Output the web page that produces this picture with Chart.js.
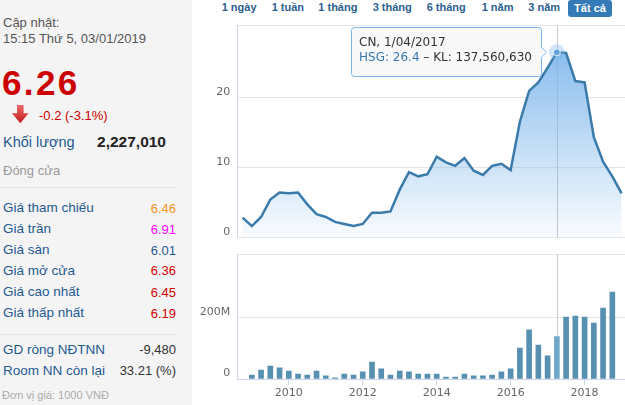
<!DOCTYPE html>
<html>
<head>
<meta charset="utf-8">
<script src="https://cdn.jsdelivr.net/npm/chart.js@4.4.1/dist/chart.umd.min.js"></script>
<style>
body{margin:0;width:625px;height:405px;overflow:hidden;background:#fff;position:relative;font-family:"Liberation Sans",Arial,sans-serif}
#info{position:absolute;left:0;top:0;width:192px;height:405px;background:#f4f4f4}
.t{position:absolute;white-space:nowrap;line-height:1}
.lbl{color:#1f5a92;font-size:13.5px;left:3px}
.val{font-size:13px;right:16px}
.hr{position:absolute;left:0;width:177px;height:1px;background:#e3e3e3}
.btn{position:absolute;top:1.6px;font-size:11px;font-weight:bold;color:#2c5f90;white-space:nowrap;line-height:1}
#all{position:absolute;left:568px;top:0;width:44px;height:17px;background:#337ab7;border-radius:3px;color:#fff;font-size:11px;font-weight:bold;text-align:center;line-height:17px}
canvas{position:absolute;left:192px}
</style>
</head>
<body>
<div id="info">
  <div class="t" style="left:3px;top:16.2px;font-size:13px;color:#555">Cập nhật:</div>
  <div class="t" style="left:3px;top:31.9px;font-size:13px;color:#555">15:15 Thứ 5, 03/01/2019</div>
  <div class="t" style="left:2px;top:65px;font-size:35px;font-weight:bold;color:#cc0000;letter-spacing:2.4px">6.26</div>
  <svg style="position:absolute;left:11.7px;top:105px" width="17" height="19" viewBox="0 0 17 19">
    <defs><linearGradient id="ag" x1="0" y1="0" x2="0" y2="1"><stop offset="0" stop-color="#ec6a6a"/><stop offset="1" stop-color="#c41a1a"/></linearGradient></defs>
    <path d="M5 0 H11.6 V8.3 H16.6 L8.3 18.3 L0 8.3 H5 Z" fill="url(#ag)"/>
  </svg>
  <div class="t" style="left:39px;top:109.2px;font-size:13px;color:#cc0000">-0.2 (-3.1%)</div>
  <div class="t" style="left:3px;top:134.7px;font-size:14.5px;color:#1f5a92">Khối lượng</div>
  <div class="t" style="right:26px;top:133.8px;font-size:15.5px;font-weight:bold;color:#222">2,227,010</div>
  <div class="t" style="left:3px;top:163.5px;font-size:13px;color:#999">Đóng cửa</div>
  <div class="hr" style="top:187px"></div>
  <div id="rows"></div>
  <div class="hr" style="top:334px"></div>
  <div class="t" style="left:2px;top:390.2px;font-size:11px;color:#aaa">Đơn vị giá: 1000 VNĐ</div>
</div>
<div class="btn" style="left:221.7px">1 ngày</div>
<div class="btn" style="left:271.7px">1 tuần</div>
<div class="btn" style="left:318.3px">1 tháng</div>
<div class="btn" style="left:372.7px">3 tháng</div>
<div class="btn" style="left:426.7px">6 tháng</div>
<div class="btn" style="left:481.7px">1 năm</div>
<div class="btn" style="left:528.3px">3 năm</div>
<div id="all">Tất cả</div>
<canvas id="priceChart" width="433" height="222" style="top:20px"></canvas>
<canvas id="volChart" width="433" height="155" style="top:250px"></canvas>
<script>
// quarterly points, 1/10/2008 .. 1/01/2019
const quarters = ['1/10/2008',
  '1/01/2009','1/04/2009','1/07/2009','1/10/2009',
  '1/01/2010','1/04/2010','1/07/2010','1/10/2010',
  '1/01/2011','1/04/2011','1/07/2011','1/10/2011',
  '1/01/2012','1/04/2012','1/07/2012','1/10/2012',
  '1/01/2013','1/04/2013','1/07/2013','1/10/2013',
  '1/01/2014','1/04/2014','1/07/2014','1/10/2014',
  '1/01/2015','1/04/2015','1/07/2015','1/10/2015',
  '1/01/2016','1/04/2016','1/07/2016','1/10/2016',
  '1/01/2017','1/04/2017','1/07/2017','1/10/2017',
  '1/01/2018','1/04/2018','1/07/2018','1/10/2018',
  '1/01/2019'];
const price = [2.8,
  1.6,2.9,5.4,6.4,
  6.3,6.4,4.7,3.3,
  2.9,2.2,1.9,1.6,
  1.9,3.5,3.5,3.7,
  6.8,9.3,8.7,9.0,
  11.5,10.7,10.2,11.3,
  9.5,8.9,10.2,10.5,
  9.6,16.5,20.9,22.1,
  24.2,26.4,26.3,22.3,
  22.1,14.3,10.8,8.7,
  6.26];
// volume, millions of shares
const volume = [null,
  13,29,42,36,
  26,16,13,26,
  10,4,16,13,
  23,55,33,13,
  26,23,16,16,
  16,6,6,16,
  10,10,13,23,
  33,100,159,110,
  75,137.56063,201,204,
  201,181,230,282,
  null];
const yearTicks = [2010,2012,2014,2016,2018];
const priceTicks = [0,10,20];
const volTicks = [0,200];
const volTickLabels = ['0','200M'];
const ticker = 'HSG';
const tipDay = 'CN';
const hoverDate = '1/04/2017';

// left panel rows
const rowLabels = ['Giá tham chiếu','Giá trần','Giá sàn','Giá mở cửa','Giá cao nhất','Giá thấp nhất','GD ròng NĐTNN','Room NN còn lại'];
const rowValues = ['6.46','6.91','6.01','6.36','6.45','6.19','-9,480','33.21 (%)'];
const rowColors = ['#f7941d','#ff00ff','#1f5a92','#d40000','#d40000','#d40000','#333','#333'];
const rowBase = [212.7,233.5,254.3,275.1,296.7,317.4,354,375];
const rows = document.getElementById('rows');
rowLabels.forEach((l,i)=>{
  rows.insertAdjacentHTML('beforeend',
    '<div class="t lbl" style="top:'+(rowBase[i]-0.83*13.5)+'px">'+l+'</div>'+
    '<div class="t val" style="top:'+(rowBase[i]-0.83*13)+'px;color:'+rowColors[i]+'">'+rowValues[i]+'</div>');
});

const toX = q => { const p = q.split('/').map(Number); return p[2] + (p[1]-1)/12; };
const xs = quarters.map(toX);
const hoverIdx = quarters.indexOf(hoverDate);
const xMin = 2008.607, xMax = 2019.093;
const fmt = n => String(n).replace(/\B(?=(\d{3})+(?!\d))/g, ',');
const lineColor = '#3b7bab';
const tickFont = {family:'DejaVu Sans', size:11};
// keep tick labels from shrinking the plot area
const noPad = s => { s.paddingTop = 0; s.paddingBottom = 0; s.paddingLeft = 0; s.paddingRight = 0; };

const crosshair = {
  id:'crosshair',
  beforeDatasetsDraw(chart){
    const x = Math.round(chart.scales.x.getPixelForValue(xs[hoverIdx])) + 0.5;
    const a = chart.chartArea, c = chart.ctx;
    c.save();
    c.strokeStyle = '#c8c8c8'; c.lineWidth = 1;
    c.beginPath(); c.moveTo(x, a.top); c.lineTo(x, a.bottom); c.stroke();
    c.restore();
  }
};

const tip = {
  id:'tip',
  afterDatasetsDraw(chart){
    const el = chart.getDatasetMeta(0).data[hoverIdx];
    const c = chart.ctx;
    c.save();
    c.fillStyle = 'rgba(124,181,236,0.35)';
    c.beginPath(); c.arc(el.x, el.y, 8, 0, Math.PI*2); c.fill();
    c.fillStyle = '#62a3dd'; c.strokeStyle = 'rgba(255,255,255,0.8)'; c.lineWidth = 1;
    c.beginPath(); c.arc(el.x, el.y, 3.5, 0, Math.PI*2); c.fill(); c.stroke();
    c.restore();
  },
  afterDraw(chart){
    const el = chart.getDatasetMeta(0).data[hoverIdx];
    const c = chart.ctx;
    c.save();
    c.font = '12px "DejaVu Sans"';
    const title = tipDay + ', ' + quarters[hoverIdx];
    const p1 = ticker + ': ' + price[hoverIdx];
    const p2 = ' \u2013 KL: ' + fmt(Math.round(volume[hoverIdx]*1e6));
    const tw = Math.max(c.measureText(title).width, c.measureText(p1+p2).width);
    const w = Math.round(tw + 17), h = 49;
    const right = Math.round(el.x - 15.5) + 0.5, left = right - w;
    const top = Math.round(el.y - 25.3) + 0.5, bottom = top + h, cy = el.y, r = 3;
    c.beginPath();
    c.moveTo(left + r, top);
    c.lineTo(right - r, top); c.arcTo(right, top, right, top + r, r);
    c.lineTo(right, cy - 5); c.lineTo(right + 5, cy); c.lineTo(right, cy + 5);
    c.lineTo(right, bottom - r); c.arcTo(right, bottom, right - r, bottom, r);
    c.lineTo(left + r, bottom); c.arcTo(left, bottom, left, bottom - r, r);
    c.lineTo(left, top + r); c.arcTo(left, top, left + r, top, r);
    c.closePath();
    c.fillStyle = 'rgba(247,247,247,0.92)'; c.fill();
    c.strokeStyle = '#7cb5ec'; c.lineWidth = 1; c.stroke();
    c.textBaseline = 'middle'; c.textAlign = 'left';
    c.fillStyle = '#333';
    c.fillText(title, left + 7.5, top + 15.3);
    c.fillStyle = '#3a78b2';
    c.fillText(p1, left + 7.5, top + 30.3);
    c.fillStyle = '#333';
    c.fillText(p2, left + 7.5 + c.measureText(p1).width, top + 30.3);
    c.restore();
  }
};

new Chart(document.getElementById('priceChart'), {
  type:'line',
  data:{ datasets:[{
    data: xs.map((x,i)=>({x:x, y:price[i]})),
    borderColor: lineColor, borderWidth:2.5, tension:0, pointRadius:0,
    fill:'origin',
    backgroundColor: ctx => {
      const a = ctx.chart.chartArea;
      if(!a) return 'rgba(124,181,236,0.4)';
      const g = ctx.chart.ctx.createLinearGradient(0, a.top, 0, a.bottom);
      g.addColorStop(0, 'rgba(124,181,236,1)');
      g.addColorStop(1, 'rgba(124,181,236,0.05)');
      return g;
    }
  }]},
  options:{
    responsive:false, animation:false, events:[],
    layout:{padding:{top:5.7, bottom:4.7, left:0, right:0}},
    plugins:{legend:{display:false}, tooltip:{enabled:false}},
    scales:{
      x:{type:'linear', display:false, offset:false, min:xMin, max:xMax},
      y:{min:0, max:30.2,
        afterFit: s => { s.width = 45.3; noPad(s); },
        afterBuildTicks: s => { s.ticks = priceTicks.concat([30.2]).map(v=>({value:v})); },
        ticks:{padding:7, labelOffset:-5.5, color:'#666', font:tickFont,
          callback: v => priceTicks.includes(v) ? String(v) : ''},
        grid:{color:'#e6e6e6', drawTicks:false},
        border:{color:'#ccd6eb'}
      }
    }
  },
  plugins:[crosshair, tip]
});

new Chart(document.getElementById('volChart'), {
  type:'bar',
  data:{ datasets:[{
    data: xs.map((x,i)=>({x:x, y:volume[i]})),
    backgroundColor: xs.map((x,i)=> i===hoverIdx ? '#72a9ca' : '#5791b1'),
    barThickness:5
  }]},
  options:{
    responsive:false, animation:false, events:[],
    layout:{padding:{top:4.3, bottom:0, left:0, right:0}},
    plugins:{legend:{display:false}, tooltip:{enabled:false}},
    scales:{
      x:{type:'linear', offset:false, min:xMin, max:xMax,
        afterFit: s => { s.height = 26; noPad(s); },
        afterBuildTicks: s => { s.ticks = yearTicks.map(v=>({value:v})); },
        ticks:{padding:2, color:'#666', font:tickFont, maxRotation:0, callback: v => String(v)},
        grid:{offset:false, drawOnChartArea:false, drawTicks:true, tickLength:6, color:'#ccd6eb'},
        border:{color:'#ccd6eb'}
      },
      y:{min:0, max:404,
        afterFit: s => { s.width = 45.3; noPad(s); },
        afterBuildTicks: s => { s.ticks = volTicks.concat([404]).map(v=>({value:v})); },
        ticks:{padding:7, labelOffset:-5.5, color:'#666', font:tickFont,
          callback: v => { const k = volTicks.indexOf(v); return k < 0 ? '' : volTickLabels[k]; }},
        grid:{color:'#e6e6e6', drawTicks:false},
        border:{color:'#ccd6eb'}
      }
    }
  },
  plugins:[crosshair]
});
</script>
</body>
</html>
